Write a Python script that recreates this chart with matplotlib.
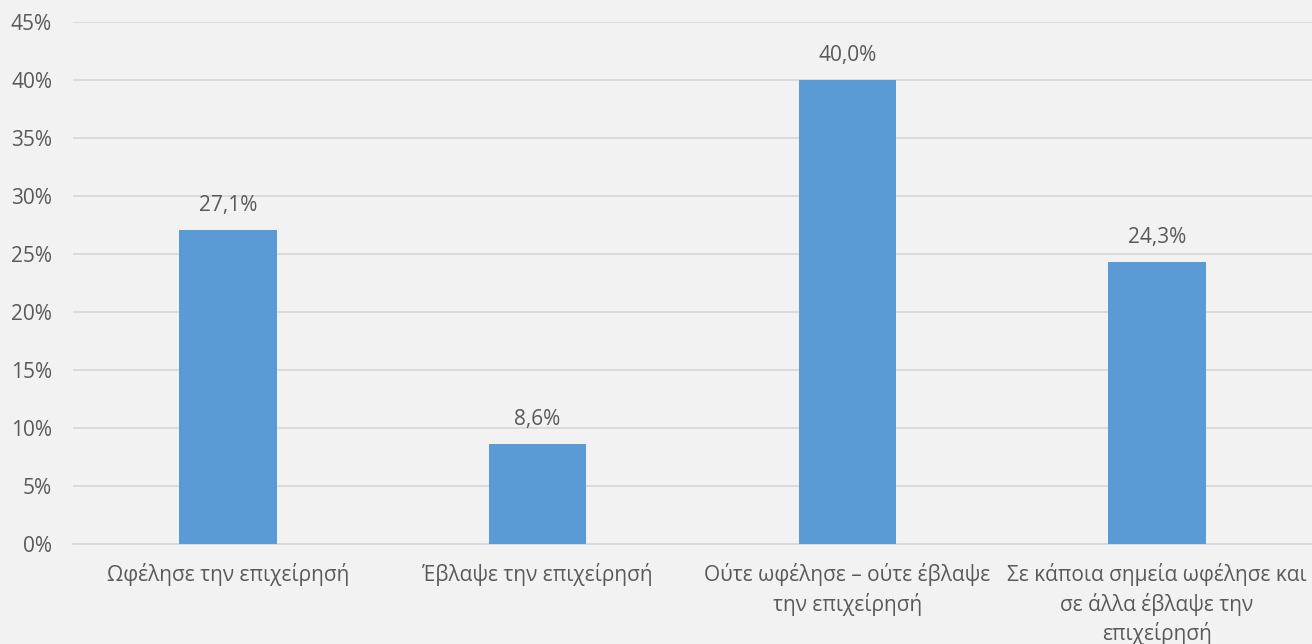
import matplotlib.pyplot as plt
from matplotlib.ticker import FuncFormatter, MultipleLocator

categories = [
    "Ωφέλησε την επιχείρησή",
    "Έβλαψε την επιχείρησή",
    "Ούτε ωφέλησε – ούτε έβλαψε\nτην επιχείρησή",
    "Σε κάποια σημεία ωφέλησε και\nσε άλλα έβλαψε την\nεπιχείρησή",
]
values = [27.1, 8.6, 40.0, 24.3]
value_labels = ["27,1%", "8,6%", "40,0%", "24,3%"]

bg = "#F2F2F2"
bar_color = "#5B9BD5"
text_color = "#595959"
grid_color = "#D9D9D9"

plt.rcParams["font.family"] = ["Open Sans", "DejaVu Sans"]

fig = plt.figure(figsize=(13.12, 6.44), dpi=100, facecolor=bg)
ax = fig.add_axes([0.0556, 0.1553, 0.9444, 0.8106], facecolor=bg)

x = range(len(categories))
ax.bar(x, values, width=0.315, color=bar_color, zorder=3)

for xi, v, lab in zip(x, values, value_labels):
    ax.annotate(lab, (xi, v), xytext=(0, 10), textcoords="offset points",
                ha="center", va="bottom", fontsize=15, color=text_color)

ax.set_xlim(-0.5, len(categories) - 0.5)
ax.set_ylim(0, 45)
ax.yaxis.set_major_locator(MultipleLocator(5))
ax.yaxis.set_major_formatter(FuncFormatter(lambda v, p: f"{v:.0f}%"))
ax.grid(axis="y", color=grid_color, linewidth=1.3, zorder=0)

ax.set_xticks(list(x))
ax.set_xticklabels(categories, fontsize=15, color=text_color, linespacing=1.35)
ax.tick_params(axis="y", labelsize=15, colors=text_color, length=0, pad=15)
ax.tick_params(axis="x", length=0, pad=14)

for side in ["top", "right", "left"]:
    ax.spines[side].set_visible(False)
ax.spines["bottom"].set_color(grid_color)
ax.spines["bottom"].set_linewidth(1.3)

fig.savefig("out.png", dpi=100, facecolor=bg)
